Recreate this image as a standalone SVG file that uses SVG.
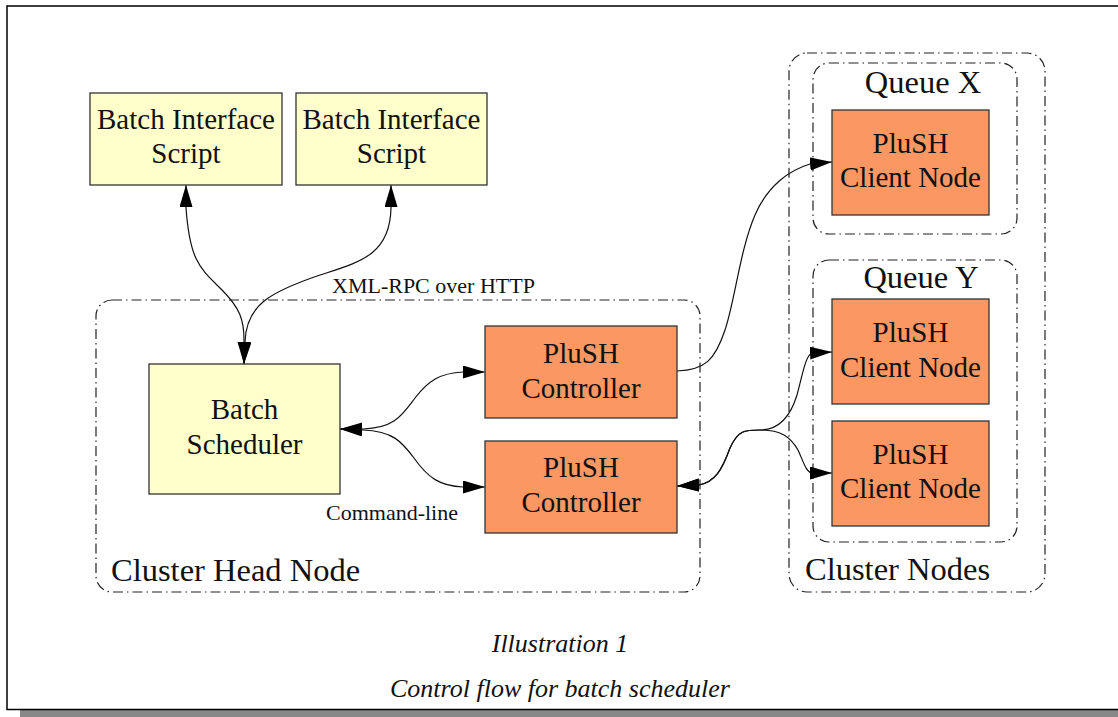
<svg xmlns="http://www.w3.org/2000/svg" width="1118" height="717" viewBox="0 0 1118 717">
<style>
text{font-family:"Liberation Serif","Times New Roman",serif;fill:#111}
.lbl{font-size:29px;text-anchor:middle}
.yel{fill:#ffffcc;stroke:#333;stroke-width:1.3}
.org{fill:#fa9763;stroke:#333;stroke-width:1.3}
.clu{fill:none;stroke:#222;stroke-width:1.2;stroke-dasharray:10 4 1.5 4}
.clt{font-size:32.5px}
.edge{fill:none;stroke:#111;stroke-width:1.2}
.small{font-size:22px}
.cap{font-size:26px;font-style:italic;text-anchor:middle}
</style>
<defs>
<marker id="ah" markerUnits="userSpaceOnUse" markerWidth="23" markerHeight="14" refX="22" refY="6.5" orient="auto-start-reverse" viewBox="0 0 23 14">
<path d="M0,0 L22,6.5 L0,13 z" fill="#000"/>
</marker>
</defs>
<rect width="1118" height="717" fill="#fff"/>
<g id="frame">
<rect x="20" y="710" width="1098" height="7" fill="#888"/>
<path d="M1118,6 L7,6 L7,709.5 L1118,709.5" fill="none" stroke="#000" stroke-width="1.5"/>
</g>
<g id="cluster-head">
<rect class="clu" x="96" y="300" width="604" height="292" rx="16"/>
<text class="clt" x="111" y="581">Cluster Head Node</text>
</g>
<g id="cluster-nodes">
<rect class="clu" x="789" y="53" width="256" height="539" rx="18"/>
<text class="clt" x="805" y="580">Cluster Nodes</text>
</g>
<g id="queue-x">
<rect class="clu" x="813" y="63" width="204" height="171" rx="16"/>
<text class="clt" x="923" y="93" text-anchor="middle">Queue X</text>
</g>
<g id="queue-y">
<rect class="clu" x="813" y="260" width="204" height="282" rx="16"/>
<text class="clt" x="921" y="288" text-anchor="middle">Queue Y</text>
</g>
<g id="connectors">
<path class="edge" marker-start="url(#ah)" marker-end="url(#ah)" d="M186,185 L186,208 C190,262 200,268 222,290 C240,308 244,320 244,340 L244,364"/>
<path class="edge" marker-start="url(#ah)" marker-end="url(#ah)" d="M391,185 L391,208 C390,255 360,262 320,275 C270,292 246,305 245,342 L244,364"/>
<path class="edge" marker-start="url(#ah)" marker-end="url(#ah)" d="M340,429 L363,429 C395,428 402,415 415,398 C428,381 440,373 463,372 L485,372"/>
<path class="edge" marker-start="url(#ah)" marker-end="url(#ah)" d="M340,429 L363,430 C393,431 402,442 414,458 C428,478 440,486 463,487 L485,487"/>
<path class="edge" marker-end="url(#ah)" d="M677,371 C705,370 715,360 725,330 C735,300 740,250 755,215 C768,185 790,170 810,164 L832,162"/>
<path class="edge" marker-start="url(#ah)" marker-end="url(#ah)" d="M677,486 L699,485 C715,482 722,470 730,448 C738,430 745,430 760,430 C778,430 790,418 797,395 C803,372 806,355 812,353 L832,352"/>
<path class="edge" marker-start="url(#ah)" marker-end="url(#ah)" d="M677,486 L699,485 C715,482 722,470 730,448 C738,430 745,430 760,430 C780,430 790,436 798,450 C804,463 806,472 812,473 L832,473"/>
<text class="small" x="332" y="293">XML-RPC over HTTP</text>
<text class="small" x="392" y="520" text-anchor="middle">Command-line</text>
</g>
<g id="bis1">
<rect class="yel" x="90" y="93" width="192" height="92"/>
<text class="lbl" x="186" y="129">Batch Interface</text>
<text class="lbl" x="186" y="163">Script</text>
</g>
<g id="bis2">
<rect class="yel" x="296" y="93" width="191" height="92"/>
<text class="lbl" x="391.5" y="129">Batch Interface</text>
<text class="lbl" x="391.5" y="163">Script</text>
</g>
<g id="scheduler">
<rect class="yel" x="149" y="364" width="191" height="130"/>
<text class="lbl" x="244.5" y="419">Batch</text>
<text class="lbl" x="244.5" y="454">Scheduler</text>
</g>
<g id="ctrl1">
<rect class="org" x="485" y="326" width="192" height="92"/>
<text class="lbl" x="581" y="363">PluSH</text>
<text class="lbl" x="581" y="398">Controller</text>
</g>
<g id="ctrl2">
<rect class="org" x="485" y="441" width="192" height="92"/>
<text class="lbl" x="581" y="477">PluSH</text>
<text class="lbl" x="581" y="512">Controller</text>
</g>
<g id="client-x">
<rect class="org" x="832" y="110" width="157" height="105"/>
<text class="lbl" x="910.5" y="153">PluSH</text>
<text class="lbl" x="910.5" y="187">Client Node</text>
</g>
<g id="client-y1">
<rect class="org" x="832" y="299" width="157" height="105"/>
<text class="lbl" x="910.5" y="342">PluSH</text>
<text class="lbl" x="910.5" y="377">Client Node</text>
</g>
<g id="client-y2">
<rect class="org" x="832" y="421" width="157" height="105"/>
<text class="lbl" x="910.5" y="464">PluSH</text>
<text class="lbl" x="910.5" y="498">Client Node</text>
</g>
<g id="caption">
<text class="cap" x="560" y="652">Illustration 1</text>
<text class="cap" x="560" y="697">Control flow for batch scheduler</text>
</g>
</svg>
